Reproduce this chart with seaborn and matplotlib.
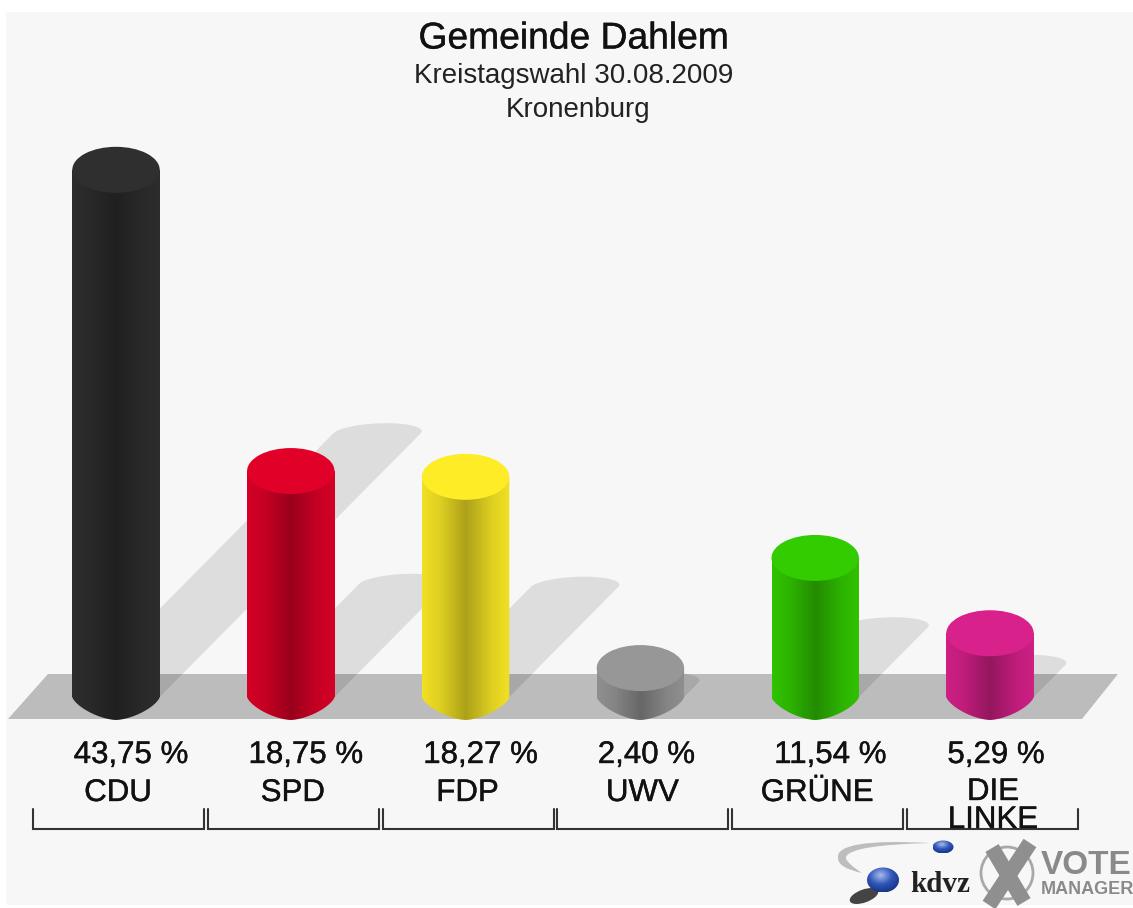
"""Gemeinde Dahlem, Kreistagswahl 2009: cylinder bars with seaborn
"""

import matplotlib.pyplot as plt
import matplotlib.colors as mcolors
import matplotlib.patheffects as pe
import numpy as np
import pandas as pd
import seaborn as sns
from matplotlib.patches import Ellipse, PathPatch, Polygon, Circle
from matplotlib.path import Path

parties = ["CDU", "SPD", "FDP", "UWV", "GRÜNE", "DIE LINKE"]
values = [43.75, 18.75, 18.27, 2.40, 11.54, 5.29]
value_labels = ["43,75 %", "18,75 %", "18,27 %", "2,40 %", "11,54 %", "5,29 %"]
cap_colors = ["#2f2f2f", "#e00028", "#fdec26", "#979797", "#33cc00", "#d9218b"]

title = "Gemeinde Dahlem"
subtitle = "Kreistagswahl 30.08.2009"
place = "Kronenburg"

# picture geometry, in pixels
W, H = 1133, 908
X0, DX = 116, 174.8   # first bar, bar spacing
Y0, DY = 697, 12.05   # zero line, pixels per percent
BAR = 0.5
CAP_H = 46 / DY       # ellipse height in percent units

sns.set_theme(style="white")
plt.rcParams["font.family"] = ["Liberation Sans", "DejaVu Sans"]

fig = plt.figure(figsize=(W / 100, H / 100), dpi=100, facecolor="white")

# pixel axes at the back: page, floor, texts, brackets, logos
back = fig.add_axes([0, 0, 1, 1], zorder=0)
back.set_xlim(0, W)
back.set_ylim(H, 0)
back.axis("off")
back.add_patch(plt.Rectangle((6, 12), W, 893, color="#f7f7f7", lw=0))
back.add_patch(Polygon([(8, 719), (1082, 719), (1118, 674), (48, 674)], color="#bcbcbc", lw=0))

# main axes, on top, same size: category x, percent y
ax = fig.add_axes([0, 0, 1, 1], zorder=1)
ax.patch.set_alpha(0)

df = pd.DataFrame({"party": parties, "value": values})
sns.barplot(data=df, x="party", y="value", hue="party", palette=cap_colors,
            width=BAR, saturation=1, legend=False, ax=ax, zorder=3, linewidth=0)

xlim = (-X0 / DX, (W - X0) / DX)
ylim = ((Y0 - H) / DY, Y0 / DY)

# shadows lying on the wall behind, 45 degrees, half of the bar height
t = np.linspace(0, np.pi, 40)
for i, v in enumerate(values):
    top = v * 0.5
    cx = i + 0.99 * top * DY / DX
    cap_x = cx + BAR / 2 * np.cos(t) + 0.055 * np.sin(t)
    cap_y = top + 0.85 * np.sin(t)
    pts = [(i + BAR / 2, 0)] + list(zip(cap_x, cap_y)) + [(i - BAR / 2, 0)]
    ax.add_patch(Polygon(pts, color="black", alpha=0.10, lw=0, zorder=1))

# cylinder bodies: gradient clipped to the side of the bar, then the cap
t = np.linspace(np.pi, 2 * np.pi, 60)
for i, (v, c) in enumerate(zip(values, cap_colors)):
    base = np.array(mcolors.to_rgb(c))
    cmap = mcolors.LinearSegmentedColormap.from_list(
        "side", [(0, base * 0.95), (0.2, base * 0.88), (0.5, base * 0.68),
                 (0.8, base * 0.88), (1, base * 0.95)])
    low_x = i + BAR / 2 * np.cos(t)
    # a bit more pointed than an ellipse, but with a round tip
    low_y = -CAP_H / 2 * (1 - np.abs(np.cos(t)) ** 1.6) ** 0.7
    verts = [(i - BAR / 2, v)] + list(zip(low_x, low_y)) + [(i + BAR / 2, v), (i - BAR / 2, v)]
    im = ax.imshow(np.linspace(0, 1, 128)[None, :], cmap=cmap, aspect="auto", zorder=4,
                   extent=(i - BAR / 2, i + BAR / 2, -CAP_H, v))
    im.set_clip_path(PathPatch(Path(verts), transform=ax.transData))
    ax.add_patch(Ellipse((i, v), BAR, CAP_H, facecolor=c, edgecolor="none", zorder=5))

ax.set_xlim(xlim)
ax.set_ylim(ylim)
ax.axis("off")

# the labels in the picture are a little heavier than the regular face
heavy = [pe.withStroke(linewidth=0.3, foreground="#222222")]

# titles
back.text(574, 39, title, ha="center", va="center", fontsize=26.8, color="#111111",
          path_effects=heavy)
back.text(574, 76, subtitle, ha="center", va="center", fontsize=20, color="#222222")
back.text(578, 110, place, ha="center", va="center", fontsize=20, color="#222222")

# value and party labels, brackets
value_offsets = [15, 15, 15, 6, 15, 6]
for i, (name, lab) in enumerate(zip(parties, value_labels)):
    cx = X0 + i * DX
    back.text(cx + value_offsets[i], 755, lab, ha="center", va="center",
              fontsize=22.5, color="#111111", path_effects=heavy)
    if name == "DIE LINKE":
        back.text(cx + 3, 792, "DIE", ha="center", va="center", fontsize=22.5,
                  color="#111111", path_effects=heavy)
        back.text(cx + 3, 820, "LINKE", ha="center", va="center", fontsize=22.5,
                  color="#111111", path_effects=heavy)
    else:
        back.text(cx + 2, 793, name, ha="center", va="center", fontsize=22.5,
                  color="#111111", path_effects=heavy)
    back.plot([cx - 83, cx - 83, cx + 88, cx + 88], [809, 829, 829, 809],
              color="#333333", lw=1.5, solid_joinstyle="miter")

# kdvz logo
swoosh = Path([(930, 843), (835, 838), (838, 858), (838, 868), (862, 873),
               (845, 862), (846, 857), (850, 845), (930, 843)],
              [Path.MOVETO, Path.CURVE3, Path.CURVE3, Path.CURVE3, Path.CURVE3,
               Path.CURVE3, Path.CURVE3, Path.CURVE3, Path.CURVE3])
back.add_patch(PathPatch(swoosh, facecolor="#bdbdbd", edgecolor="none"))
back.add_patch(Ellipse((864, 896), 30, 13, angle=-20, color="#444444", lw=0))
ball_map = mcolors.LinearSegmentedColormap.from_list("ball", ["#a9bcec", "#2f55b8", "#14307e"])
t = np.linspace(0, 2 * np.pi, 60)
for (sx, sy, w, h) in [(883, 880, 32, 25), (943, 847, 21, 13)]:
    grad = np.hypot(*np.meshgrid(np.linspace(-1, 1, 64) + 0.15, np.linspace(-1, 1, 64) + 0.35))
    im = back.imshow(grad, cmap=ball_map, vmin=0, vmax=1.5, aspect="auto", zorder=3,
                     extent=(sx - w / 2, sx + w / 2, sy + h / 2, sy - h / 2))
    outline = np.column_stack([sx + w / 2 * np.cos(t), sy + h / 2 * np.sin(t)])
    im.set_clip_path(PathPatch(Path(outline), transform=back.transData))
back.text(940, 884, "kdvz", ha="center", va="center", fontsize=21, fontweight="bold",
          family="Liberation Serif", color="#222222")

# vote manager logo
back.add_patch(Circle((1007, 873), 26, facecolor="none", edgecolor="#a8a8a8", lw=2))
back.plot([992, 1024], [848, 902], color="#8f8f8f", lw=11, solid_capstyle="butt")
back.plot([1030, 989], [843, 905], color="#8f8f8f", lw=11, solid_capstyle="butt")
back.text(1041, 865, "VOTE", ha="left", va="center", fontsize=24, fontweight="bold",
          color="#8a8a8a")
back.text(1041, 889, "MANAGER", ha="left", va="center", fontsize=13, fontweight="bold",
          color="#8a8a8a")

back.set_xlim(0, W)
back.set_ylim(H, 0)

fig.savefig("out.png", dpi=100)
